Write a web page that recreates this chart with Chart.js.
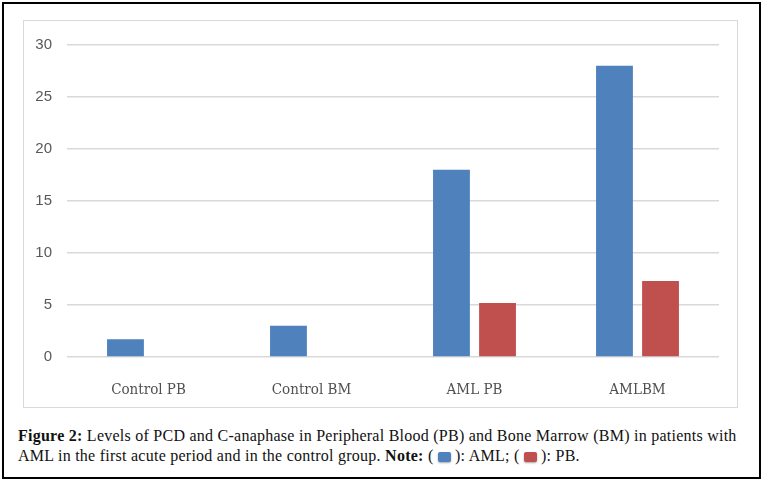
<!DOCTYPE html>
<html>
<head>
<meta charset="utf-8">
<script src="https://cdn.jsdelivr.net/npm/chart.js@4"></script>
<style>
  body { margin: 0; background: #fff; }
  #frame { position: absolute; left: 2px; top: 2px; width: 755px; height: 473px; border: 2px solid #000; }
  #box { position: absolute; left: 23px; top: 20px; width: 713px; height: 386px; border: 1.5px solid #d9d9d9; }
  #chart { position: absolute; left: 0; top: 0; }
  #caption { position: absolute; left: 18px; top: 426px; width: 740px; font-family: "Liberation Serif", serif; font-size: 16px; letter-spacing: 0.25px; line-height: 20px; color: #111; white-space: nowrap; }
  .sw { display: inline-block; width: 13px; height: 10px; border-radius: 2px; vertical-align: -1px; box-shadow: 0 1px 2px rgba(0,0,0,0.35); }
</style>
</head>
<body>
<div id="frame"></div>
<div id="box"><canvas id="chart" width="713" height="386"></canvas></div>
<div id="caption"><b>Figure 2:</b> Levels of PCD and C-anaphase in Peripheral Blood (PB) and Bone Marrow (BM) in patients with<br>AML in the first acute period and in the control group. <b>Note:</b> ( <span class="sw" style="background:#4f81bd"></span> ): AML; ( <span class="sw" style="background:#c0504d"></span> ): PB.</div>
<script>
const categories = ['Control PB', 'Control BM', 'AML PB', 'AMLBM'];
const amlValues = [1.7, 3, 18, 28];
const pbValues = [null, null, 5.2, 7.3];
const yTicks = [0, 5, 10, 15, 20, 25, 30];

const ctx = document.getElementById('chart').getContext('2d');

new Chart(ctx, {
  type: 'bar',
  data: {
    labels: categories,
    datasets: [
      { label: 'AML', data: amlValues, backgroundColor: '#4f81bd' },
      { label: 'PB', data: pbValues, backgroundColor: '#c0504d' }
    ]
  },
  options: {
    responsive: false,
    animation: false,
    categoryPercentage: 0.565,
    barPercentage: 0.8,
    layout: { padding: { top: 22, right: 18, left: 0, bottom: 0 } },
    plugins: { legend: { display: false }, tooltip: { enabled: false } },
    scales: {
      x: {
        grid: { display: false },
        border: { display: false },
        ticks: { color: '#505050', padding: 16, font: { family: 'DejaVu Serif Condensed', size: 15 } },
        afterFit: (s) => { s.height = 50; }
      },
      y: {
        min: 0,
        max: 30,
        afterBuildTicks: (s) => { s.ticks = yTicks.map(v => ({ value: v })); },
        grid: { color: '#d9d9d9', lineWidth: 1.5, drawTicks: false },
        border: { display: false },
        ticks: { color: '#595959', padding: 15, font: { family: 'Liberation Sans', size: 15 } },
        afterFit: (s) => { s.width = 43; }
      }
    }
  }
});
</script>
</body>
</html>
